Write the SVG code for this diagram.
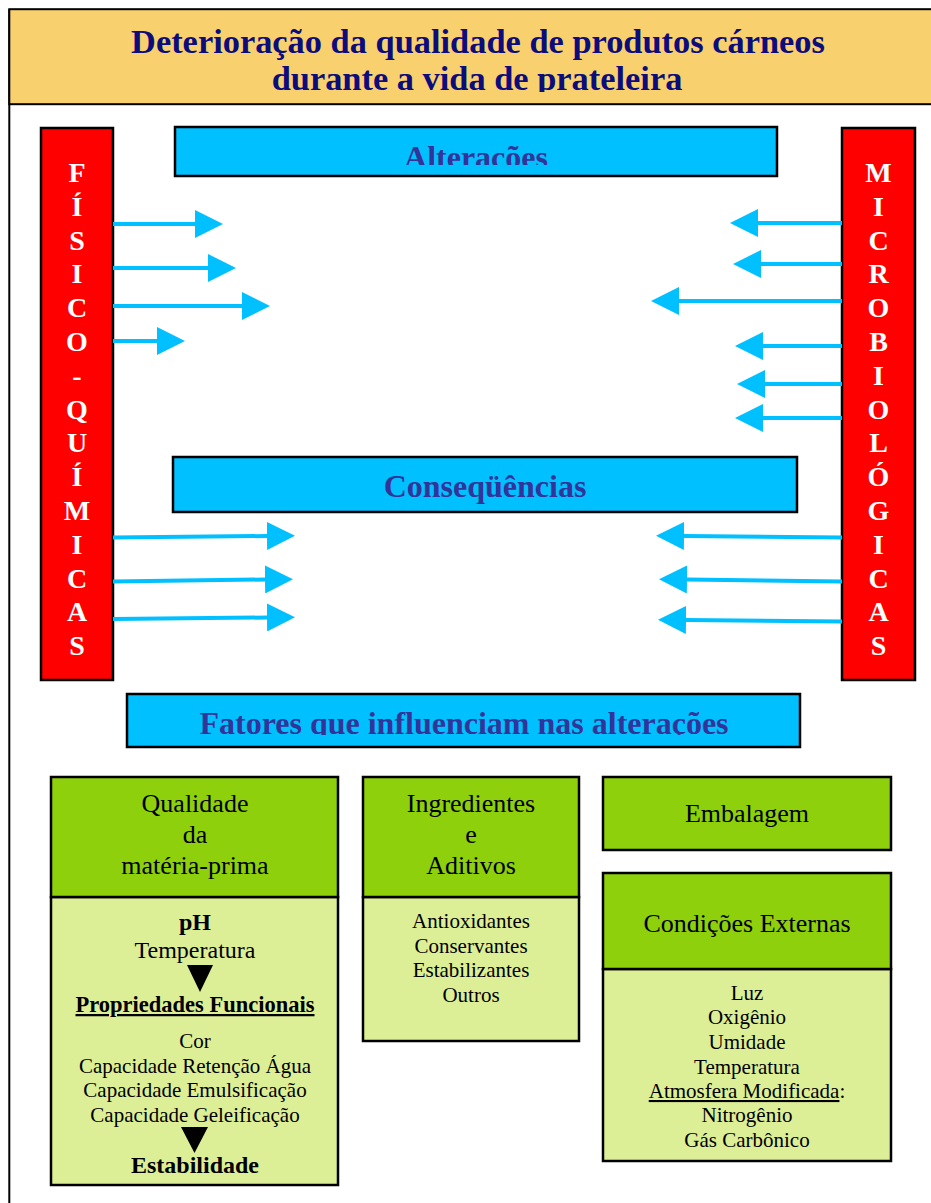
<svg xmlns="http://www.w3.org/2000/svg" width="931" height="1203" viewBox="0 0 931 1203">
  <style>
    .serif { font-family: "Liberation Serif", "Times New Roman", serif; }
    .title { font-size: 34.4px; font-weight: bold; fill: #0c0c7c; text-anchor: middle; }
    .band { fill: #00c0ff; stroke: #000; stroke-width: 2.5; }
    .bandtxt { font-size: 32px; font-weight: bold; fill: #333399; text-anchor: middle; }
    .side { fill: #ff0000; stroke: #000; stroke-width: 2.5; }
    .letter { font-size: 28px; font-weight: bold; fill: #fff; text-anchor: middle; }
    .arrow { stroke: #00c0ff; stroke-width: 4; fill: none; marker-end: url(#head); }
    .hdr { fill: #8dd00b; stroke: #000; stroke-width: 2.5; }
    .body { fill: #ddef96; stroke: #000; stroke-width: 2.5; }
    .h { font-size: 26px; fill: #000; text-anchor: middle; }
    .t { font-size: 21px; fill: #000; text-anchor: middle; }
    .b { font-weight: bold; }
  </style>
  <defs>
    <marker id="head" markerUnits="userSpaceOnUse" markerWidth="28" markerHeight="28" refX="0" refY="14" orient="auto">
      <path d="M0,0 L28,14 L0,28 Z" fill="#00c0ff"/>
    </marker>
    <clipPath id="clipTitle2"><rect x="0" y="60" width="931" height="32"/></clipPath>
    <clipPath id="clipAlt"><rect x="175" y="127" width="602" height="38"/></clipPath>
    <clipPath id="clipFat"><rect x="127" y="694" width="673" height="41"/></clipPath>
  </defs>

  <rect width="931" height="1203" fill="#fff"/>

  <!-- page frame and title -->
  <g id="title">
    <line x1="9.3" y1="9" x2="9.3" y2="1203" stroke="#000" stroke-width="2"/>
    <rect x="9.3" y="9.2" width="930" height="95" fill="#f8d16e" stroke="#000" stroke-width="2"/>
    <text class="serif title" x="478" y="53">Deterioração da qualidade de produtos cárneos</text>
    <text class="serif title" x="477" y="90" clip-path="url(#clipTitle2)">durante a vida de prateleira</text>
  </g>

  <!-- section bands -->
  <g id="alteracoes">
    <rect class="band" x="175" y="127" width="602" height="49"/>
    <text class="serif bandtxt" x="476" y="168" clip-path="url(#clipAlt)">Alterações</text>
  </g>
  <g id="consequencias">
    <rect class="band" x="173" y="457" width="624" height="55"/>
    <text class="serif bandtxt" x="485" y="497">Conseqüências</text>
  </g>
  <g id="fatores">
    <rect class="band" x="127" y="694" width="673" height="53"/>
    <text class="serif bandtxt" x="464" y="733.5" clip-path="url(#clipFat)">Fatores que influenciam nas alterações</text>
  </g>

  <!-- vertical side columns -->
  <g id="fisico-quimicas">
    <rect class="side" x="41" y="128" width="72" height="552"/>
    <g class="serif letter">
      <text x="77" y="182">F</text>
      <text x="77" y="215.8">Í</text>
      <text x="77" y="249.6">S</text>
      <text x="77" y="283.4">I</text>
      <text x="77" y="317.2">C</text>
      <text x="77" y="351">O</text>
      <text x="77" y="384.8">-</text>
      <text x="77" y="418.6">Q</text>
      <text x="77" y="452.4">U</text>
      <text x="77" y="486.2">Í</text>
      <text x="77" y="520">M</text>
      <text x="77" y="553.8">I</text>
      <text x="77" y="587.6">C</text>
      <text x="77" y="621.4">A</text>
      <text x="77" y="655.2">S</text>
    </g>
  </g>
  <g id="microbiologicas">
    <rect class="side" x="842" y="128" width="73" height="552"/>
    <g class="serif letter">
      <text x="878.5" y="182">M</text>
      <text x="878.5" y="215.8">I</text>
      <text x="878.5" y="249.6">C</text>
      <text x="878.5" y="283.4">R</text>
      <text x="878.5" y="317.2">O</text>
      <text x="878.5" y="351">B</text>
      <text x="878.5" y="384.8">I</text>
      <text x="878.5" y="418.6">O</text>
      <text x="878.5" y="452.4">L</text>
      <text x="878.5" y="486.2">Ó</text>
      <text x="878.5" y="520">G</text>
      <text x="878.5" y="553.8">I</text>
      <text x="878.5" y="587.6">C</text>
      <text x="878.5" y="621.4">A</text>
      <text x="878.5" y="655.2">S</text>
    </g>
  </g>

  <!-- connectors -->
  <g id="connectors">
    <line class="arrow" x1="113" y1="224" x2="195" y2="224"/>
    <line class="arrow" x1="113" y1="268" x2="208" y2="268"/>
    <line class="arrow" x1="113" y1="306" x2="242" y2="306"/>
    <line class="arrow" x1="113" y1="341" x2="157" y2="341"/>

    <line class="arrow" x1="842" y1="223" x2="758" y2="223"/>
    <line class="arrow" x1="842" y1="264" x2="761" y2="264"/>
    <line class="arrow" x1="842" y1="301" x2="679" y2="301"/>
    <line class="arrow" x1="842" y1="346" x2="763" y2="346"/>
    <line class="arrow" x1="842" y1="384" x2="765" y2="384"/>
    <line class="arrow" x1="842" y1="418" x2="763" y2="418"/>

    <line class="arrow" x1="113" y1="537.5" x2="267" y2="536"/>
    <line class="arrow" x1="113" y1="581.5" x2="265" y2="579.5"/>
    <line class="arrow" x1="113" y1="619" x2="267" y2="617.5"/>

    <line class="arrow" x1="842" y1="537.5" x2="684" y2="536"/>
    <line class="arrow" x1="842" y1="581.5" x2="687" y2="579.5"/>
    <line class="arrow" x1="842" y1="621.5" x2="686" y2="620"/>

    <rect x="469" y="773" width="3.5" height="5" fill="#fff"/>
    <rect x="721" y="847" width="4" height="29" fill="#fff"/>
  </g>

  <!-- factor boxes -->
  <g id="materia-prima">
    <rect class="body" x="51" y="897" width="287" height="288"/>
    <rect class="hdr" x="51" y="777" width="287" height="120"/>
    <g class="serif h">
      <text x="195" y="812">Qualidade</text>
      <text x="195" y="843">da</text>
      <text x="195" y="874">matéria-prima</text>
    </g>
    <g class="serif t">
      <text class="b" x="195" y="930" font-size="24">pH</text>
      <text x="195" y="958" font-size="24">Temperatura</text>
      <path d="M187,965 L213,965 L200,992 Z" fill="#000"/>
      <text class="b" x="195" y="1012" font-size="22.5" text-decoration="underline">Propriedades Funcionais</text>
      <text x="195" y="1048">Cor</text>
      <text x="195" y="1073">Capacidade Retenção Água</text>
      <text x="195" y="1097">Capacidade Emulsificação</text>
      <text x="195" y="1122">Capacidade Geleificação</text>
      <path d="M181,1127 L208,1127 L194.5,1153 Z" fill="#000"/>
      <text class="b" x="195" y="1173" font-size="24">Estabilidade</text>
    </g>
  </g>

  <g id="ingredientes">
    <rect class="body" x="363" y="897" width="216" height="144"/>
    <rect class="hdr" x="363" y="777" width="216" height="120"/>
    <g class="serif h">
      <text x="471" y="812">Ingredientes</text>
      <text x="471" y="843">e</text>
      <text x="471" y="874">Aditivos</text>
    </g>
    <g class="serif t">
      <text x="471" y="928">Antioxidantes</text>
      <text x="471" y="953">Conservantes</text>
      <text x="471" y="977">Estabilizantes</text>
      <text x="471" y="1002">Outros</text>
    </g>
  </g>

  <g id="embalagem">
    <rect class="hdr" x="603" y="777" width="288" height="73"/>
    <text class="serif h" x="747" y="822">Embalagem</text>
  </g>

  <g id="condicoes-externas">
    <rect class="body" x="603" y="969" width="288" height="192"/>
    <rect class="hdr" x="603" y="873" width="288" height="96"/>
    <text class="serif h" x="747" y="932">Condições Externas</text>
    <g class="serif t">
      <text x="747" y="1000">Luz</text>
      <text x="747" y="1024">Oxigênio</text>
      <text x="747" y="1049">Umidade</text>
      <text x="747" y="1074">Temperatura</text>
      <text x="747" y="1098"><tspan text-decoration="underline">Atmosfera Modificada</tspan>:</text>
      <text x="747" y="1122">Nitrogênio</text>
      <text x="747" y="1147">Gás Carbônico</text>
    </g>
  </g>
</svg>
